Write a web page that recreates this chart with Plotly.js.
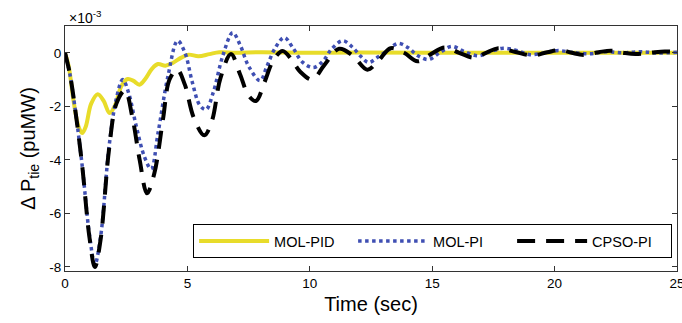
<!DOCTYPE html>
<html>
<head>
<meta charset="utf-8">
<script src="https://cdn.plot.ly/plotly-3.0.1.min.js"></script>
<style>html,body{margin:0;padding:0;background:#fff;}#chart{width:682px;height:323px;}</style>
</head>
<body>
<div id="chart"></div>
<script>
// Values in units of 1e-3 puMW
const tPID = [0, 0.15, 0.35, 0.55, 0.7, 0.85, 1.07, 1.34, 1.58, 1.82, 2.05, 2.3, 2.56, 2.8, 3.04, 3.3, 3.55, 3.8, 4.1, 4.4, 4.75, 5.05, 5.45, 5.9, 6.3, 7, 8, 10, 12, 15, 20, 25];
const yPID = [0, -0.5, -1.8, -2.75, -3.0, -2.75, -1.9, -1.55, -1.8, -2.25, -1.95, -1.25, -0.98, -1.05, -1.19, -0.95, -0.6, -0.42, -0.48, -0.38, -0.18, -0.07, -0.13, -0.05, 0.02, 0, 0.02, 0, 0.01, 0, 0, 0];

const tPI = [0, 0.2, 0.4, 0.7, 1.0, 1.22, 1.45, 1.8, 2.1, 2.36, 2.6, 2.9, 3.25, 3.52, 3.8, 4.2, 4.6, 4.9, 5.2, 5.5, 5.76, 6.05, 6.45, 6.85, 7.15, 7.5, 7.97, 8.25, 8.6, 8.96, 9.3, 9.7, 10.15, 10.55, 10.9, 11.35, 11.75, 12.1, 12.4, 12.8, 13.2, 13.6, 14.0, 14.4, 14.85, 15.3, 15.8, 16.3, 16.9, 17.4, 17.9, 18.4, 19.0, 19.5, 20.1, 20.7, 21.4, 22.1, 22.8, 23.5, 24.2, 25];
const yPI = [0, -0.8, -2.0, -4.2, -6.8, -7.9, -6.9, -3.5, -1.7, -1.0, -1.5, -2.7, -3.9, -4.34, -3.0, -0.9, 0.45, 0.0, -1.1, -1.95, -2.12, -1.5, -0.1, 0.75, 0.3, -0.5, -1.04, -0.5, 0.2, 0.57, 0.2, -0.35, -0.55, -0.3, 0.15, 0.45, 0.2, -0.15, -0.36, -0.15, 0.1, 0.35, 0.2, -0.1, -0.25, 0.0, 0.24, 0.05, -0.11, 0.05, 0.17, 0.1, -0.07, -0.02, 0.08, 0.02, -0.04, 0.04, 0.0, 0.04, -0.01, 0.02];

const tCPSO = [0, 0.2, 0.4, 0.7, 1.0, 1.22, 1.45, 1.8, 2.1, 2.45, 2.75, 3.05, 3.35, 3.65, 4.0, 4.27, 4.58, 4.9, 5.25, 5.69, 6.0, 6.35, 6.78, 7.15, 7.5, 7.8, 8.15, 8.5, 8.89, 9.25, 9.6, 10.1, 10.6, 11.2, 11.75, 12.35, 12.8, 13.3, 13.85, 14.4, 14.95, 15.5, 16.1, 16.7, 17.2, 17.7, 18.4, 19.1, 19.7, 20.25, 20.7, 21.2, 21.8, 22.3, 22.8, 23.3, 23.9, 24.5, 25];
const yCPSO = [0, -0.8, -2.0, -4.2, -6.9, -8.0, -7.0, -3.6, -1.9, -1.4, -2.4, -4.0, -5.25, -4.5, -2.5, -1.0, -0.62, -1.2, -2.4, -3.08, -2.55, -0.95, -0.05, -0.8, -1.6, -1.8, -1.1, -0.3, 0.07, -0.25, -0.7, -1.0, -0.45, 0.15, -0.1, -0.63, -0.3, 0.17, 0.0, -0.32, -0.05, 0.2, 0.0, -0.18, 0.0, 0.17, 0.03, -0.1, 0.02, 0.1, 0.0, -0.08, 0.02, 0.08, 0.0, -0.05, 0.0, 0.05, 0.02];

const seriesNames = ['MOL-PID', 'MOL-PI', 'CPSO-PI'];
const xTickVals = [0, 5, 10, 15, 20, 25];
const xTickText = ['0', '5', '10', '15', '20', '25'];
const yTickVals = [0, -2, -4, -6, -8];
const yTickText = ['0', '-2', '-4', '-6', '-8'];

const FONT = 'Arial, "Liberation Sans", Helvetica, sans-serif';
const AX = '#333333';

const traces = [
  {x: tPID, y: yPID, name: seriesNames[0], type: 'scatter', mode: 'lines',
   line: {color: '#E8DC2A', width: 4, shape: 'spline', smoothing: 1}},
  {x: tPI, y: yPI, name: seriesNames[1], type: 'scatter', mode: 'lines',
   line: {color: '#3F4FB3', width: 3.5, dash: 'dot', shape: 'spline', smoothing: 1}},
  {x: tCPSO, y: yCPSO, name: seriesNames[2], type: 'scatter', mode: 'lines',
   line: {color: '#000000', width: 4, dash: '18px,11px', shape: 'spline', smoothing: 1}}
];

const layout = {
  width: 682, height: 323,
  margin: {l: 65, r: 5, t: 26, b: 52},
  paper_bgcolor: '#fff', plot_bgcolor: '#fff',
  font: {family: FONT, color: '#000', size: 14},
  showlegend: true,
  legend: {
    orientation: 'h', x: 0.992, xanchor: 'right', y: 0.053, yanchor: 'bottom',
    bordercolor: '#000', borderwidth: 1, bgcolor: '#fff',
    font: {family: FONT, size: 14.5, color: '#000'},
    itemwidth: 70, entrywidth: 74, traceorder: 'normal'
  },
  xaxis: {
    range: [0, 25], tickvals: xTickVals, ticktext: xTickText,
    ticks: 'inside', ticklen: 5, tickcolor: AX, showline: true, linecolor: AX, linewidth: 1,
    mirror: 'ticks', showgrid: false, zeroline: false, ticklabeloverflow: 'allow',
    tickfont: {family: FONT, size: 13.5, color: '#000'},
    title: {text: 'Time (sec)', font: {family: FONT, size: 20, color: '#000'}, standoff: 6},
    automargin: false
  },
  yaxis: {
    range: [-8.15, 1.0], tickvals: yTickVals, ticktext: yTickText,
    ticks: 'inside', ticklen: 5, tickcolor: AX, showline: true, linecolor: AX, linewidth: 1,
    mirror: 'ticks', showgrid: false, zeroline: false,
    tickfont: {family: FONT, size: 13.5, color: '#000'},
    title: {text: 'Δ P<sub>tie</sub> (puMW)', font: {family: FONT, size: 20, color: '#000'}, standoff: 8},
    automargin: false
  },
  annotations: [{
    xref: 'paper', yref: 'paper', x: 0.003, y: 1.035, xanchor: 'left', yanchor: 'middle',
    text: '×10<sup>-3</sup>', showarrow: false, font: {family: FONT, size: 14, color: '#000'}
  }]
};

Plotly.newPlot('chart', traces, layout, {displayModeBar: false, staticPlot: true});
</script>
</body>
</html>
